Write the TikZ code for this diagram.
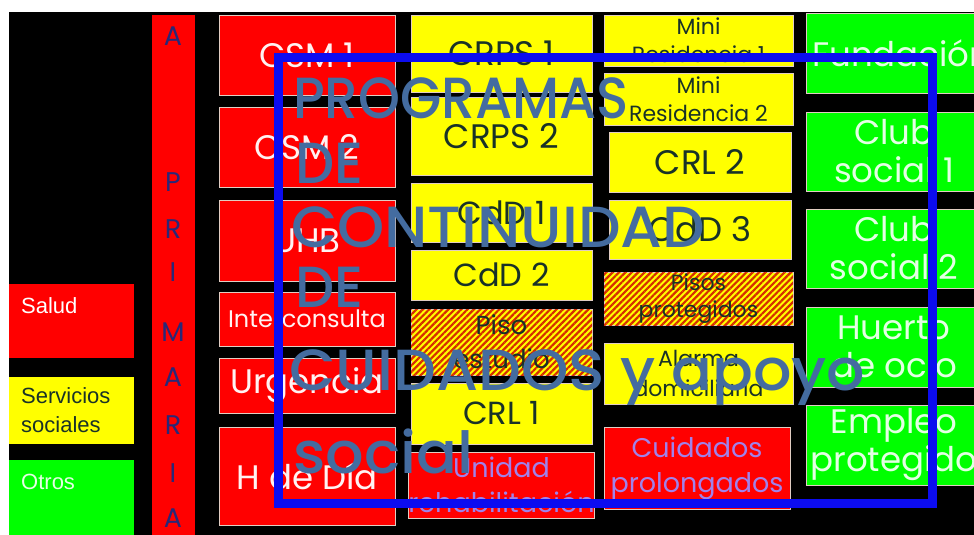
\documentclass[tikz,border=0pt]{standalone}
\usepackage{fontspec}
\setmainfont{Poppins}
\newfontfamily\arialf{Liberation Sans}
\newfontfamily\overf{Poppins Medium}
\usetikzlibrary{patterns.meta}
\definecolor{pptred}{RGB}{255,0,0}
\definecolor{pptyellow}{RGB}{255,255,0}
\definecolor{pptgreen}{RGB}{0,255,0}
\definecolor{darktext}{RGB}{25,50,40}
\definecolor{redtext}{RGB}{255,242,242}
\definecolor{greentext}{RGB}{228,255,228}
\definecolor{lavender}{RGB}{160,130,235}
\definecolor{primtext}{RGB}{40,40,120}
\definecolor{overlay}{RGB}{68,108,160}
\definecolor{frameblue}{RGB}{12,12,240}
\definecolor{hatchred}{RGB}{215,45,0}
\definecolor{bordercol}{RGB}{225,205,195}
\newcommand\myfs[2]{\fontsize{#1}{#2}\selectfont}
\newcommand\cell[7]{\node[#1,minimum width=#5pt-#3pt,minimum height=#6pt-#4pt] (#2) at ({(#3+#5)/2},{(#4+#6)/2}) {#7};}
\begin{document}
\begin{tikzpicture}[x=1pt,y=-1pt,
  cellbase/.style={inner sep=0pt, align=center, draw=bordercol, line width=0.8pt},
  redc/.style={cellbase, fill=pptred, text=redtext},
  yelc/.style={cellbase, fill=pptyellow, text=darktext},
  hatc/.style={yelc, postaction={pattern={Lines[angle=45,distance=4.5pt,line width=2.2pt]}, pattern color=hatchred}},
  grnc/.style={cellbase, fill=pptgreen, text=greentext},
  legbox/.style={inner sep=0pt, draw=none},
  legtext/.style={inner sep=0pt, anchor=north west, align=left, font=\arialf\myfs{22}{29}},
  primletter/.style={inner sep=0pt, text=primtext, font=\myfs{27}{30}},
  overtext/.style={inner sep=0pt, anchor=base west, text=overlay, font=\overf\myfs{58}{64}},
  blueframe/.style={draw=frameblue, line width=9pt, line join=miter}
]
\useasboundingbox (0,0) rectangle (974,535);
\clip (0,0) rectangle (974,535);
\fill[white] (0,0) rectangle (974,535);
\fill[black] (9,12) rectangle (974,535);

% legend
\cell{legbox,fill=pptred}{salud}{9}{284}{134}{358}{}
\cell{legbox,fill=pptyellow}{servsoc}{9}{377}{134}{444}{}
\cell{legbox,fill=pptgreen}{otros}{9}{460}{134}{540}{}
\node[legtext, text=white] (saludt) at (21,297) {Salud};
\node[legtext, text=darktext] (servsoct) at (21,387) {Servicios\\sociales};
\node[legtext, text=greentext] (otrost) at (21,474) {Otros};

% A PRIMARIA column
\cell{legbox,fill=pptred}{primcol}{152}{15}{195}{540}{}
\node[primletter] (p1) at (173,36) {A};
\node[primletter] (p2) at (173,182) {P};
\node[primletter] (p3) at (173,229) {R};
\node[primletter] (p4) at (173,272) {I};
\node[primletter] (p5) at (173,332) {M};
\node[primletter] (p6) at (173,377) {A};
\node[primletter] (p7) at (173,425) {R};
\node[primletter] (p8) at (173,473) {I};
\node[primletter] (p9) at (173,518) {A};

% column of red boxes
\cell{redc,font=\myfs{34}{40}}{csm1}{219}{15}{395}{95}{CSM 1}
\cell{redc,font=\myfs{34}{40}}{csm2}{219}{107}{395}{187}{CSM 2}
\cell{redc,font=\myfs{34}{40}}{uhb}{219}{200}{395}{281}{UHB}
\cell{redc,font=\myfs{24}{28}}{inter}{219}{292}{395}{346}{Interconsulta}
\cell{redc,font=\myfs{34}{40}}{urg}{219}{358}{395}{413}{Urgencia}
\cell{redc,font=\myfs{34}{40}}{hdia}{219}{427}{395}{525}{H de Día}

% second column
\cell{yelc,font=\myfs{34}{40}}{crps1}{411}{15}{592}{92}{CRPS 1}
\cell{yelc,font=\myfs{34}{40}}{crps2}{411}{97}{592}{175}{CRPS 2}
\cell{yelc,font=\myfs{32}{38}}{cdd1}{411}{183}{592}{242}{CdD 1}
\cell{yelc,font=\myfs{32}{38}}{cdd2}{411}{250}{592}{300}{CdD 2}
\cell{hatc,font=\myfs{26}{34}}{piso}{411}{309}{592}{375}{Piso\\estudio}
\cell{yelc,font=\myfs{32}{38}}{crl1}{411}{383}{592}{444}{CRL 1}
\cell{redc,text=lavender,font=\myfs{27}{35}}{unidad}{411}{452}{592}{518}{Unidad\\rehabilitación}

% third column
\cell{yelc,font=\myfs{22}{28}}{minires1}{604}{15}{793}{66}{Mini\\Residencia 1}
\cell{yelc,font=\myfs{22}{28}}{minires2}{604}{73}{793}{125}{Mini\\Residencia 2}
\cell{yelc,font=\myfs{34}{40}}{crl2}{609}{132}{791}{192}{CRL 2}
\cell{yelc,font=\myfs{34}{40}}{cdd3}{609}{200}{791}{259}{CdD 3}
\cell{hatc,font=\myfs{22}{27}}{pisosprot}{604}{272}{793}{325}{Pisos\\protegidos}
\cell{yelc,font=\myfs{22}{30}}{alarma}{604}{343}{793}{404}{Alarma\\domiciliaria}
\cell{redc,text=lavender,font=\myfs{27}{35}}{cuidados}{604}{427}{790}{509}{Cuidados\\prolongados}

% fourth column
\cell{grnc}{fund}{806}{13}{982}{93}{}
\node[inner sep=0pt, anchor=west, text=greentext, font=\myfs{34}{40}] (fundt) at (812,53) {Fundación};
\cell{grnc,font=\myfs{34}{38}}{club1}{806}{112}{982}{191}{Club\\social 1}
\cell{grnc,font=\myfs{34}{38}}{club2}{806}{209}{982}{288}{Club\\social 2}
\cell{grnc,font=\myfs{34}{38}}{huerto}{806}{307}{982}{387}{Huerto\\de ocio}
\cell{grnc,font=\myfs{34}{38}}{empleo}{806}{405}{982}{485}{Empleo\\protegido}

% overlay frame and title
\draw[blueframe] (278,58) rectangle (932,503);
\node[overtext] (t1) at (293,118) {\resizebox{336pt}{\height}{PROGRAMAS}};
\node[overtext] (t2) at (295,183) {\resizebox{68pt}{\height}{DE}};
\node[overtext] (t3) at (291,247) {\resizebox{414pt}{\height}{CONTINUIDAD}};
\node[overtext] (t4) at (295,307) {\resizebox{68pt}{\height}{DE}};
\node[overtext] (t5) at (289,390) {\resizebox{576pt}{\height}{CUIDADOS y apoyo}};
\node[overtext] (t6) at (293,473) {\resizebox{180pt}{\height}{social}};
\end{tikzpicture}
\end{document}
